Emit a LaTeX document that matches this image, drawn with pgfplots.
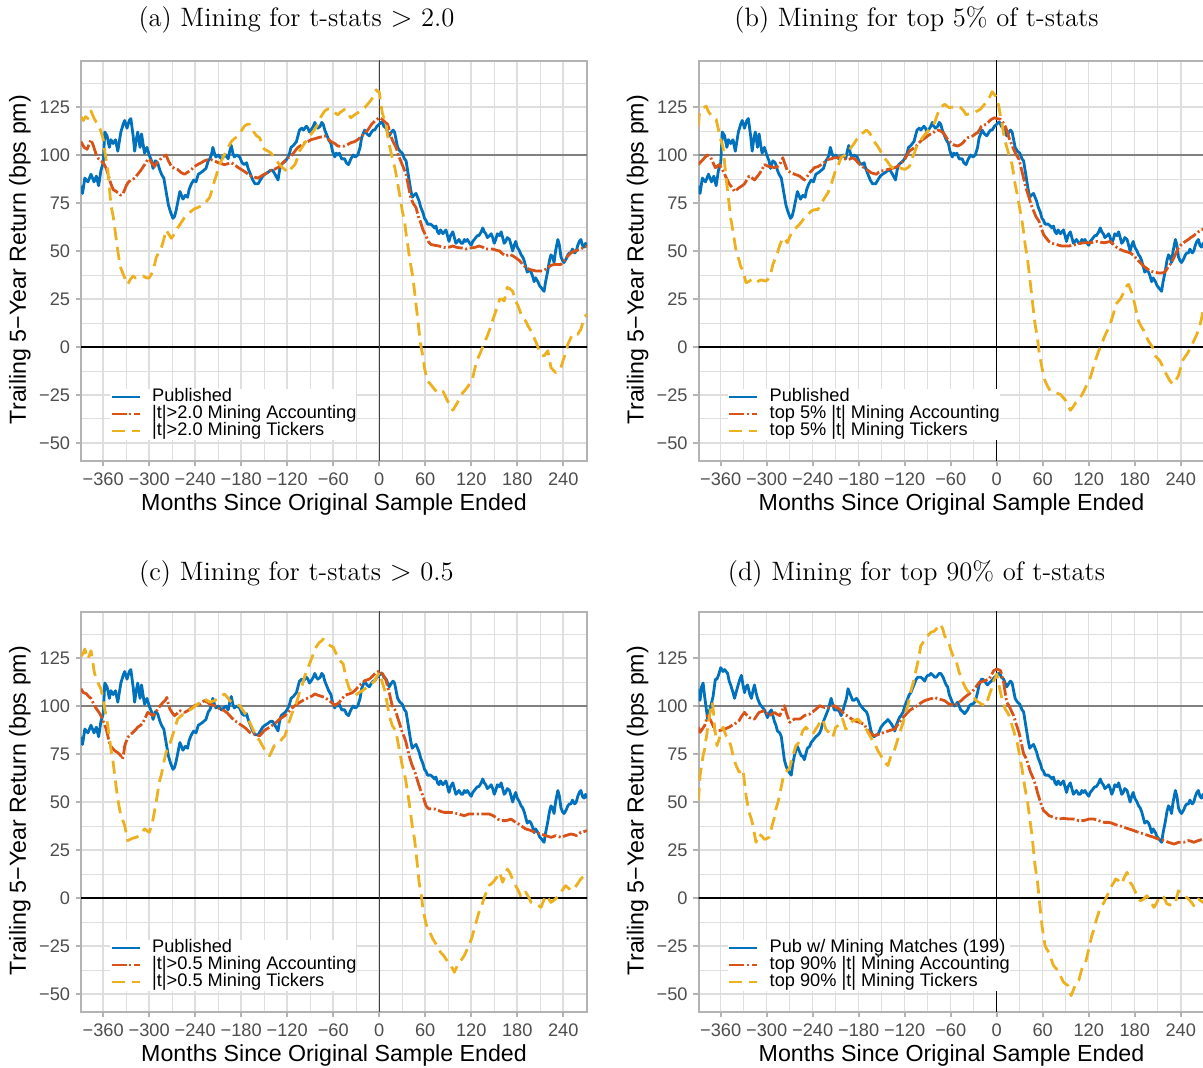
\documentclass[border=0pt]{standalone}
\usepackage{fontspec}
\setsansfont{Liberation Sans}
\usepackage{pgfplots}
\usepackage{pgfplotstable}
\pgfplotsset{compat=1.18}
\definecolor{cblue}{HTML}{0072BD}
\definecolor{corange}{HTML}{D95319}
\definecolor{cyellow}{HTML}{EDB120}
\definecolor{gridc}{HTML}{DEDEDE}
\definecolor{grey70}{HTML}{B3B3B3}
\definecolor{grey30}{HTML}{4D4D4D}
\definecolor{grey50}{HTML}{808080}
\newcommand\tickfont{\sffamily\fontsize{9.1}{10}\selectfont}
\newcommand\labfont{\sffamily\fontsize{11.6}{13}\selectfont}
\newcommand\titfont{\rmfamily\fontsize{13.3}{16}\selectfont}

\pgfplotstableread[row sep=\\]{
x y\\ -389 84\\ -387 80\\ -384 88\\ -380 86\\ -376 90\\ -372 86\\ -369 89\\ -366 84\\ -363 92\\ -360 96\\ -358 112\\ -355 110\\ -352 104\\ -350 108\\ -347 106\\ -344 108\\ -341 102\\ -337 112\\ -334 116\\ -332 118\\ -329 114\\ -326 118\\ -324 119\\ -321 110\\ -319 102\\ -317 108\\ -315 112\\ -312 104\\ -310 111\\ -307 103\\ -306 101\\ -303 104\\ -300 100\\ -297 97\\ -295 93\\ -292 97\\ -289 96\\ -286 92\\ -284 90\\ -281 88\\ -278 81\\ -275 74\\ -272 70\\ -269 67\\ -267 68\\ -265 71\\ -262 77\\ -260 81\\ -258 79\\ -256 77\\ -253 79\\ -250 78\\ -248 82\\ -245 85\\ -242 87\\ -239 86\\ -236 90\\ -232 91\\ -229 92\\ -226 93\\ -223 97\\ -221 98\\ -219 100\\ -217 104\\ -215 101\\ -213 99\\ -210 100\\ -206 98\\ -203 99\\ -200 100\\ -197 98\\ -195 102\\ -193 105\\ -191 101\\ -189 99\\ -186 100\\ -182 99\\ -179 96\\ -176 95\\ -173 96\\ -171 93\\ -168 90\\ -165 87\\ -162 85\\ -158 85\\ -155 87\\ -152 89\\ -149 90\\ -145 91\\ -142 92\\ -139 92\\ -136 90\\ -132 87\\ -130 92\\ -128 95\\ -125 96\\ -122 97\\ -119 99\\ -117 101\\ -115 104\\ -112 105\\ -108 107\\ -106 110\\ -104 113\\ -101 114\\ -99 113\\ -97 114\\ -95 115\\ -93 114\\ -91 112\\ -89 113\\ -86 115\\ -84 117\\ -82 115\\ -80 114\\ -77 115\\ -75 117\\ -73 116\\ -71 113\\ -69 111\\ -66 108\\ -63 106\\ -61 102\\ -58 99\\ -56 101\\ -54 100\\ -52 101\\ -49 98\\ -45 98\\ -43 96\\ -40 95\\ -37 98\\ -34 100\\ -31 99\\ -28 100\\ -25 104\\ -23 109\\ -21 111\\ -19 113\\ -16 111\\ -13 110\\ -10 112\\ -8 113\\ -6 113\\ -3 115\\ 0 116\\
}\blueAL

\pgfplotstableread[row sep=\\]{
x y\\ -389 109\\ -387 103\\ -385 110\\ -383 112\\ -381 105\\ -380 102\\ -378 96\\ -377 93\\ -375 97\\ -373 100\\ -370 105\\ -367 114\\ -365 114\\ -363 116\\ -360 120\\ -357 118\\ -355 119\\ -353 118\\ -351 117\\ -349 113\\ -347 111\\ -344 107\\ -342 104\\ -340 107\\ -338 110\\ -335 114\\ -333 116\\ -331 111\\ -329 107\\ -327 110\\ -325 111\\ -322 106\\ -320 104\\ -318 108\\ -316 111\\ -314 107\\ -312 104\\ -309 101\\ -307 100\\ -305 99\\ -303 98\\ -301 96\\ -299 94\\ -296 97\\ -294 98\\ -292 95\\ -290 92\\ -288 90\\ -286 87\\ -283 86\\ -281 84\\ -279 78\\ -277 72\\ -275 69\\ -273 67\\ -270 65\\ -268 64\\ -266 70\\ -264 74\\ -262 77\\ -260 79\\ -258 77\\ -255 74\\ -253 74\\ -251 72\\ -249 75\\ -247 78\\ -244 79\\ -242 81\\ -240 82\\ -238 83\\ -236 84\\ -233 85\\ -231 86\\ -229 88\\ -227 91\\ -225 93\\ -222 96\\ -220 98\\ -218 101\\ -216 104\\ -214 101\\ -212 98\\ -209 98\\ -207 98\\ -205 97\\ -203 95\\ -201 97\\ -199 100\\ -196 104\\ -194 109\\ -192 107\\ -190 105\\ -188 103\\ -186 103\\ -183 104\\ -181 103\\ -179 101\\ -177 100\\ -175 99\\ -173 98\\ -170 97\\ -168 95\\ -166 91\\ -164 87\\ -162 85\\ -160 84\\ -157 85\\ -155 85\\ -153 87\\ -151 89\\ -149 90\\ -147 91\\ -144 92\\ -142 93\\ -140 92\\ -138 91\\ -135 89\\ -133 87\\ -131 90\\ -129 92\\ -127 94\\ -125 95\\ -122 97\\ -120 100\\ -118 102\\ -116 104\\ -114 106\\ -112 107\\ -109 110\\ -107 112\\ -105 114\\ -103 115\\ -101 115\\ -99 115\\ -96 114\\ -94 113\\ -92 115\\ -90 116\\ -88 116\\ -86 117\\ -83 116\\ -81 115\\ -79 115\\ -77 116\\ -75 117\\ -73 117\\ -70 115\\ -68 113\\ -66 111\\ -64 110\\ -62 106\\ -60 104\\ -57 101\\ -55 100\\ -53 101\\ -51 102\\ -49 100\\ -47 98\\ -44 97\\ -42 96\\ -40 97\\ -38 98\\ -36 100\\ -33 101\\ -31 101\\ -29 102\\ -27 104\\ -25 107\\ -23 111\\ -20 114\\ -18 114\\ -16 113\\ -14 112\\ -12 111\\ -10 112\\ -7 113\\ -5 114\\ -3 115\\ 0 116\\
}\blueDL

\pgfplotstableread[row sep=\\]{
x y\\ 0 116\\ 2 117\\ 4 117\\ 6 115\\ 9 114\\ 11 112\\ 13 110\\ 16 112\\ 18 113\\ 20 112\\ 22 108\\ 24 104\\ 27 102\\ 30 101\\ 33 98\\ 35 97\\ 37 92\\ 39 87\\ 41 82\\ 43 78\\ 45 79\\ 48 80\\ 50 78\\ 52 76\\ 54 73\\ 57 70\\ 59 67\\ 61 66\\ 63 64\\ 65 64\\ 67 64\\ 70 63\\ 72 62\\ 74 63\\ 76 60\\ 78 59\\ 80 61\\ 83 59\\ 85 60\\ 87 61\\ 89 58\\ 91 55\\ 93 58\\ 96 60\\ 98 57\\ 100 54\\ 102 55\\ 104 56\\ 107 54\\ 109 54\\ 111 56\\ 113 55\\ 115 56\\ 118 54\\ 120 53\\ 122 55\\ 124 56\\ 126 57\\ 128 58\\ 130 58\\ 133 60\\ 135 62\\ 137 60\\ 139 59\\ 141 57\\ 144 58\\ 146 59\\ 148 57\\ 150 54\\ 152 56\\ 154 59\\ 157 58\\ 159 60\\ 161 57\\ 163 54\\ 165 55\\ 167 57\\ 170 56\\ 172 53\\ 174 50\\ 176 53\\ 178 55\\ 180 52\\ 183 50\\ 185 48\\ 187 47\\ 189 45\\ 191 42\\ 193 39\\ 196 40\\ 198 39\\ 200 37\\ 202 34\\ 204 36\\ 207 34\\ 209 32\\ 211 31\\ 213 30\\ 215 29\\ 217 34\\ 220 40\\ 222 45\\ 224 48\\ 226 47\\ 228 44\\ 230 50\\ 233 56\\ 235 53\\ 237 47\\ 239 45\\ 241 44\\ 244 46\\ 246 48\\ 248 49\\ 250 49\\ 252 51\\ 255 49\\ 257 50\\ 259 53\\ 261 55\\ 263 56\\ 265 53\\ 267 52\\ 269 54\\ 271 52\\
}\blueR

\pgfplotstableread[row sep=\\]{
x y\\ -389 107\\ -385 104\\ -381 103\\ -378 106\\ -376 108\\ -373 105\\ -369 100\\ -366 98\\ -363 97\\ -360 96\\ -356 93\\ -353 89\\ -350 85\\ -347 82\\ -343 81\\ -340 80\\ -337 79\\ -334 80\\ -330 84\\ -327 86\\ -323 87\\ -319 88\\ -315 90\\ -311 92\\ -306 95\\ -303 97\\ -300 98\\ -297 96\\ -293 94\\ -290 96\\ -287 97\\ -283 99\\ -278 100\\ -275 97\\ -271 94\\ -267 93\\ -263 92.5\\ -259 91\\ -254 90\\ -250 91\\ -245 92.5\\ -241 94\\ -237 95\\ -232 96\\ -228 97\\ -224 97.5\\ -219 97.5\\ -215 97\\ -210 96\\ -206 95.5\\ -202 95\\ -197 95.5\\ -193 96\\ -189 95\\ -184 93.5\\ -180 92.5\\ -176 91.5\\ -171 90\\ -167 89\\ -163 88.5\\ -158 88\\ -154 89\\ -150 90\\ -145 91\\ -141 92\\ -137 92.5\\ -132 93.5\\ -128 95\\ -123 97\\ -119 98.5\\ -115 99.5\\ -110 102\\ -106 104\\ -102 105\\ -97 106.5\\ -93 107\\ -89 108\\ -84 108.5\\ -80 109\\ -75 109.5\\ -71 110\\ -67 108.5\\ -63 107\\ -58 106\\ -54 104.7\\ -50 104.5\\ -45 104.7\\ -41 105.5\\ -37 106.4\\ -32 107\\ -28 108\\ -24 109.5\\ -19 111.6\\ -15 113\\ -10 116\\ -5 118\\ 0 119.4\\ 4 118.6\\ 8 117\\ 11 116\\ 15 110\\ 18 107\\ 22 104\\ 25 100\\ 28 97\\ 32 93\\ 35 90\\ 38 84\\ 41 78\\ 44 75\\ 48 72.6\\ 51 68\\ 54 65\\ 57 61\\ 61 57.8\\ 64 55\\ 67 53.5\\ 72 53\\ 78 52.6\\ 83 52\\ 87 51.7\\ 91 52\\ 96 52.6\\ 100 52\\ 104 51.7\\ 109 51.5\\ 113 51\\ 117 51.5\\ 122 51.7\\ 126 52\\ 130 52.6\\ 135 52\\ 139 51\\ 144 51\\ 148 51\\ 152 50.5\\ 157 50\\ 161 48.5\\ 165 47.4\\ 170 48.3\\ 174 47.5\\ 178 46.5\\ 183 45\\ 187 43\\ 191 41.5\\ 196 40.4\\ 200 40\\ 204 39.6\\ 209 39.6\\ 213 39.6\\ 217 40.5\\ 220 41.3\\ 224 42.5\\ 228 43\\ 233 43\\ 237 43\\ 241 45\\ 246 47.4\\ 250 49\\ 255 50\\ 259 50.5\\ 263 51\\ 267 52\\ 271 52.6\\
}\orA

\pgfplotstableread[row sep=\\]{
x y\\ -389 120\\ -386 118\\ -383 120\\ -380 119\\ -376 123\\ -373 120\\ -369 117\\ -366 115\\ -363 112.5\\ -360 108\\ -358 102\\ -356 97\\ -354 92\\ -352 83\\ -350 74\\ -347 68\\ -345 62\\ -343 56\\ -341 50\\ -339 45\\ -337 41\\ -334 38\\ -332 36\\ -330 34\\ -328 32.6\\ -325 35\\ -321 37\\ -318 36\\ -315 36\\ -311 37\\ -308 37\\ -304 36\\ -300 36\\ -297 38\\ -295 39.6\\ -293 43\\ -291 46.5\\ -288 49\\ -284 52\\ -281 56\\ -278 61\\ -275 59\\ -271 56.6\\ -267 59\\ -263 62\\ -258 65\\ -254 67.4\\ -250 69\\ -245 70.8\\ -241 72\\ -237 72.6\\ -232 73.5\\ -228 74.3\\ -225 76\\ -221 78\\ -218 82\\ -215 86.5\\ -212 90\\ -210 93.4\\ -206 97\\ -202 100\\ -197 104\\ -193 107\\ -189 108.5\\ -184 110\\ -180 112.5\\ -176 115\\ -172 116\\ -169 116\\ -166 114\\ -163 111.6\\ -160 110\\ -156 109\\ -153 106\\ -150 103\\ -145 102\\ -141 101\\ -137 98.5\\ -132 96\\ -129 94.5\\ -126 93.4\\ -122 92\\ -119 90.8\\ -115 93\\ -110 95\\ -107 98\\ -104 102\\ -100 104.5\\ -97 106.4\\ -93 108.5\\ -89 110.8\\ -84 113.5\\ -80 116\\ -76 120\\ -71 123\\ -67 124\\ -63 123.8\\ -58 122\\ -54 121\\ -50 122.5\\ -45 123.8\\ -41 121.5\\ -37 119.4\\ -32 121\\ -28 122\\ -23 123.5\\ -19 124.7\\ -15 126.5\\ -10 129\\ -7 131\\ -4 134\\ -2 133\\ 0 133\\ 2 127\\ 4 122\\ 7 118\\ 9 116\\ 11 110\\ 13 105.5\\ 15 102\\ 17 98.6\\ 20 94\\ 22 90\\ 25 83\\ 28 76\\ 30 71\\ 33 65.6\\ 35 59\\ 37 53.5\\ 39 48\\ 41 43\\ 44 36\\ 46 29\\ 48 22\\ 50 15.3\\ 52 8\\ 54 1.4\\ 57 -5\\ 59 -10.8\\ 61 -14.5\\ 63 -17.7\\ 67 -19.5\\ 70 -21\\ 73 -22.5\\ 76 -23.8\\ 80 -23.5\\ 83 -23\\ 86 -25.5\\ 89 -28\\ 93 -30.5\\ 96 -33\\ 99 -31\\ 102 -29\\ 106 -26\\ 109 -23.8\\ 112 -22.5\\ 115 -21\\ 119 -18.5\\ 122 -16\\ 124 -12.5\\ 126 -9\\ 128 -6.5\\ 130 -4.7\\ 133 -2\\ 135 0\\ 138 3\\ 141 5.7\\ 144 9\\ 146 11.8\\ 149 15\\ 152 18.7\\ 155 22\\ 157 24.8\\ 160 25\\ 163 24\\ 165 27.5\\ 167 31\\ 170 30.5\\ 174 29\\ 176 26.5\\ 178 24\\ 182 20.5\\ 185 17\\ 188 15\\ 191 13.5\\ 194 11\\ 198 8.3\\ 201 5.5\\ 204 3\\ 207 0\\ 209 -3\\ 212 -4\\ 215 -4.7\\ 218 -3\\ 220 -2\\ 222 -6.5\\ 224 -10.8\\ 227 -12\\ 230 -13.4\\ 233 -12.5\\ 237 -10.8\\ 239 -8\\ 241 -5.6\\ 244 -2\\ 246 1.4\\ 249 4\\ 252 6.6\\ 255 6.8\\ 259 6.6\\ 261 8\\ 263 9.2\\ 265 12\\ 267 15.3\\ 271 17\\
}\yeA

\pgfplotstableread[row sep=\\]{
x y\\ -389 95\\ -386 96.5\\ -383 97.7\\ -380 99\\ -378 100\\ -375 99.5\\ -373 98.6\\ -370 96\\ -367 93.4\\ -365 94\\ -362 95\\ -358 92.5\\ -355 90\\ -352 87.5\\ -349 85\\ -345 83\\ -342 81\\ -339 82\\ -336 83\\ -332 84\\ -329 85\\ -326 87\\ -323 89\\ -319 88\\ -316 87\\ -313 88.5\\ -310 90\\ -306 92.5\\ -303 95\\ -300 94.5\\ -297 94\\ -293 93.7\\ -290 93.4\\ -286 94\\ -283 95\\ -281 97\\ -279 98.6\\ -276 95\\ -273 91.7\\ -268 90.8\\ -264 90\\ -260 89.5\\ -257 89\\ -254 88\\ -251 87\\ -247 89\\ -244 90.8\\ -241 92\\ -238 93.4\\ -233 94\\ -229 95\\ -224 96.5\\ -220 97.7\\ -216 98\\ -212 98.6\\ -207 98.6\\ -203 98.6\\ -198 98\\ -194 97.7\\ -191 98\\ -188 98.6\\ -184 97.5\\ -181 96\\ -177 94.5\\ -173 93.4\\ -168 92\\ -164 90.8\\ -160 90.3\\ -157 90\\ -154 91\\ -151 91.7\\ -146 92\\ -142 92.5\\ -137 93\\ -133 93.4\\ -130 94\\ -127 95\\ -123 96.5\\ -120 97.7\\ -117 100\\ -114 102\\ -109 103.5\\ -105 104.7\\ -101 106.5\\ -97 108\\ -93 109\\ -90 110\\ -86 111\\ -83 111.6\\ -80 112.5\\ -77 113\\ -73 112.5\\ -70 111.6\\ -67 110\\ -64 108\\ -60 106.5\\ -57 105.5\\ -54 105\\ -51 104.7\\ -47 105.5\\ -44 106.4\\ -41 108\\ -38 109\\ -34 109.5\\ -31 110\\ -28 111\\ -25 111.6\\ -22 113.5\\ -20 115\\ -17 115.5\\ -14 116\\ -10 117.5\\ -7 118.6\\ -3 119.4\\ 0 119\\ 5 118.6\\ 8 117\\ 11 115\\ 14 112\\ 16 109\\ 19 106\\ 22 103\\ 25 100.5\\ 29 97.7\\ 32 93\\ 35 88\\ 38 83\\ 42 78\\ 45 74\\ 48 71\\ 51 68\\ 55 65.6\\ 58 62\\ 61 58.7\\ 64 57\\ 68 55\\ 72 54\\ 77 53.5\\ 81 53\\ 85 52.6\\ 90 52.6\\ 94 52.6\\ 99 53\\ 105 53.5\\ 109 54\\ 113 54.3\\ 118 54.3\\ 122 54.3\\ 126 54.6\\ 131 55\\ 135 54.6\\ 140 54.3\\ 144 54.6\\ 148 55\\ 152 53.5\\ 157 51.7\\ 161 50.8\\ 166 50\\ 170 49.5\\ 174 49\\ 179 47.5\\ 183 45.7\\ 187 44\\ 192 42\\ 196 40.8\\ 200 39.6\\ 205 39\\ 209 38.7\\ 213 38.5\\ 218 38.7\\ 221 40\\ 224 42\\ 228 44\\ 231 46.5\\ 234 49\\ 237 51.7\\ 241 53.5\\ 246 55\\ 250 56\\ 253 57\\ 257 58\\ 261 59.5\\ 265 60.5\\ 269 61.3\\ 271 61.5\\
}\orB

\pgfplotstableread[row sep=\\]{
x y\\ -389 115\\ -388 121\\ -386 123\\ -383 124.7\\ -381 125\\ -379 125.5\\ -377 123.5\\ -375 122\\ -372 120.5\\ -370 119.4\\ -368 119\\ -366 118.6\\ -364 115\\ -362 111.6\\ -360 108\\ -357 104\\ -355 96\\ -353 88\\ -351 81\\ -349 74.3\\ -347 67\\ -344 60.4\\ -342 55\\ -340 50\\ -338 47.5\\ -336 45\\ -334 42\\ -331 39.6\\ -329 36.5\\ -327 33.5\\ -324 34\\ -320 35\\ -317 34\\ -314 33.5\\ -310 34.5\\ -307 35\\ -304 34.5\\ -301 34.4\\ -299 35\\ -297 36\\ -294 39.5\\ -292 43\\ -289 46\\ -286 49\\ -283 53\\ -279 57\\ -276 56\\ -273 54.3\\ -270 57.5\\ -266 60.4\\ -262 62\\ -257 64\\ -254 65.5\\ -251 67.4\\ -246 69\\ -242 70.8\\ -238 71.5\\ -233 71.7\\ -230 74\\ -227 76\\ -224 78\\ -220 80.4\\ -216 84.7\\ -213 88.5\\ -210 92.5\\ -206 95.5\\ -203 98.6\\ -200 99.5\\ -197 100\\ -193 102\\ -190 104\\ -186 106\\ -183 108\\ -180 109.5\\ -177 110.8\\ -173 112\\ -170 113\\ -166 111.6\\ -163 109.5\\ -160 107\\ -156 105\\ -153 103\\ -150 100.8\\ -147 98.6\\ -143 96.8\\ -140 95\\ -137 93.7\\ -133 92.5\\ -130 93\\ -127 93.4\\ -124 93\\ -120 92.5\\ -117 93.2\\ -114 94\\ -112 96\\ -110 98.6\\ -107 101.5\\ -105 104\\ -101 106.5\\ -97 109\\ -93 111\\ -90 112.5\\ -86 114.5\\ -81 116.8\\ -78 120.5\\ -75 123.8\\ -71 125.5\\ -68 126.4\\ -65 125.5\\ -62 124.7\\ -57 125\\ -53 125.5\\ -50 125\\ -47 124.7\\ -43 123\\ -40 121\\ -36 121.5\\ -31 122\\ -28 122.5\\ -25 123\\ -21 124\\ -18 125.5\\ -15 126.8\\ -12 128\\ -9 130.5\\ -6 133\\ -3 131.5\\ 0 130\\ 3 124.7\\ 5 120\\ 7 116\\ 9 111\\ 11 107\\ 14 103\\ 16 100\\ 18 97.5\\ 20 95\\ 22 90\\ 24 84.7\\ 27 79\\ 29 74.3\\ 31 70\\ 33 65.6\\ 35 60\\ 37 53.5\\ 40 46\\ 42 39.6\\ 44 32.5\\ 46 25.7\\ 48 18.5\\ 50 11.8\\ 53 5\\ 55 -2\\ 57 -6.5\\ 59 -10.8\\ 61 -14.5\\ 63 -17.7\\ 67 -21\\ 70 -23\\ 73 -23.5\\ 77 -23.8\\ 80 -24.3\\ 83 -24.7\\ 87 -26.5\\ 90 -28\\ 93 -30.5\\ 96 -33\\ 100 -31\\ 103 -29\\ 106 -27.7\\ 109 -26.4\\ 113 -23.5\\ 116 -21\\ 119 -18.5\\ 122 -16\\ 125 -12\\ 127 -9\\ 130 -5.5\\ 133 -2\\ 137 1.5\\ 140 4.9\\ 143 7.5\\ 146 10\\ 148 12\\ 150 14.4\\ 153 18.5\\ 155 22.2\\ 158 23.5\\ 161 24.8\\ 165 28\\ 168 31\\ 170 32\\ 172 32.6\\ 176 28.5\\ 179 24\\ 182 18.5\\ 185 13.5\\ 188 11\\ 192 8.3\\ 195 5.5\\ 198 3\\ 203 0\\ 207 -4.7\\ 210 -6\\ 213 -7.3\\ 217 -10.5\\ 220 -13.4\\ 223 -15.5\\ 226 -17.7\\ 229 -19\\ 231 -19.4\\ 234 -17\\ 237 -15\\ 240 -10.5\\ 242 -7.3\\ 245 -5.5\\ 248 -3.8\\ 252 -1\\ 255 1.4\\ 258 4\\ 261 6.6\\ 264 10\\ 267 14.5\\ 269 18.7\\ 271 20\\
}\yeB

\pgfplotstableread[row sep=\\]{
x y\\ -389 109\\ -386 107\\ -382 106.4\\ -379 105\\ -376 104\\ -373 101.5\\ -369 98.6\\ -366 97\\ -363 95\\ -360 92\\ -356 88\\ -354 84.5\\ -352 81\\ -349 78.5\\ -345 76.7\\ -342 76\\ -339 75\\ -337 74\\ -335 72.4\\ -333 76\\ -332 79.3\\ -330 81.5\\ -328 83.7\\ -325 85\\ -321 86.3\\ -318 87.5\\ -315 89\\ -311 90\\ -308 91.5\\ -305 94\\ -302 96.7\\ -299 96\\ -295 95\\ -292 96.5\\ -289 98.4\\ -286 100\\ -282 101.9\\ -279 103\\ -277 104.5\\ -275 101\\ -273 98.4\\ -270 96.5\\ -267 95\\ -264 96\\ -260 97.6\\ -257 97\\ -254 96.7\\ -250 97.5\\ -247 98.4\\ -244 99.3\\ -241 100.2\\ -237 100.6\\ -234 101\\ -231 102\\ -228 102.8\\ -224 102\\ -221 101\\ -218 100.6\\ -215 100.2\\ -211 99.3\\ -208 98.4\\ -205 98\\ -202 97.6\\ -198 96.3\\ -195 95\\ -192 93.7\\ -189 92.4\\ -185 91.5\\ -182 90.6\\ -179 89.8\\ -176 89\\ -172 87.6\\ -169 86.3\\ -166 85.8\\ -163 85.4\\ -160 84.9\\ -156 84.5\\ -153 85.8\\ -150 87.2\\ -147 88\\ -143 89\\ -140 89.8\\ -137 90.6\\ -133 92\\ -130 93.2\\ -127 94\\ -123 95\\ -120 96.3\\ -117 97.6\\ -114 98.9\\ -110 100.2\\ -107 101\\ -104 101.9\\ -100 102.8\\ -97 103.6\\ -94 104\\ -91 104.5\\ -87 105.4\\ -84 106.3\\ -81 105.8\\ -78 105.4\\ -75 105\\ -71 104.5\\ -68 103.6\\ -65 102.8\\ -61 101.5\\ -58 100.2\\ -55 101\\ -52 102\\ -49 103.7\\ -45 105.4\\ -42 106\\ -39 106.3\\ -35 107\\ -32 108\\ -29 109.3\\ -26 110.6\\ -22 112\\ -19 113.2\\ -16 113.6\\ -13 114\\ -9 115.5\\ -6 116.7\\ -3 117.5\\ 0 118.4\\ 4 116.7\\ 7 115\\ 9 113.2\\ 11 110\\ 13 107.1\\ 15 103.5\\ 17 100.2\\ 20 98.4\\ 22 96.7\\ 24 94\\ 26 91.5\\ 28 89\\ 30 86.3\\ 33 83.5\\ 35 81\\ 37 77.5\\ 39 74.1\\ 41 71.5\\ 43 69\\ 46 66.3\\ 48 63.7\\ 50 61\\ 52 58.5\\ 54 56\\ 57 53.3\\ 59 50.5\\ 61 48.1\\ 63 47\\ 65 46.4\\ 68 46.5\\ 72 46.4\\ 75 46\\ 78 45.5\\ 81 45\\ 85 44.6\\ 88 44.6\\ 91 44.6\\ 95 44.5\\ 98 44.3\\ 101 44\\ 104 43.8\\ 107 43.3\\ 111 42.9\\ 114 43.3\\ 117 43.8\\ 121 43.8\\ 126 43.8\\ 130 43.8\\ 135 43.8\\ 139 43.8\\ 143 43.8\\ 148 43\\ 152 42\\ 155 41\\ 159 40.3\\ 162 40.3\\ 165 40.3\\ 169 40.7\\ 172 41.1\\ 175 40.2\\ 178 39.4\\ 182 38.5\\ 185 37.7\\ 188 36.8\\ 191 36\\ 195 35.5\\ 198 35.1\\ 201 34.6\\ 204 34.2\\ 208 33.7\\ 211 33.3\\ 214 32.9\\ 217 32.5\\ 221 32\\ 224 31.6\\ 227 32\\ 230 32.5\\ 234 32\\ 237 31.6\\ 240 32\\ 243 32.5\\ 247 33\\ 250 33.3\\ 254 33\\ 257 32.5\\ 260 33.3\\ 263 34.2\\ 267 34.6\\ 271 35.1\\
}\orC

\pgfplotstableread[row sep=\\]{
x y\\ -389 126\\ -386 127.5\\ -384 129.7\\ -382 127\\ -380 124.5\\ -378 126.5\\ -376 128.8\\ -374 124\\ -372 118.4\\ -370 115\\ -367 112.3\\ -365 110.5\\ -363 108.9\\ -360 103.5\\ -358 98.4\\ -356 94\\ -354 89.8\\ -352 83.5\\ -350 77.6\\ -347 70.5\\ -345 63.7\\ -343 57.5\\ -341 51.6\\ -339 47\\ -337 42.9\\ -334 40\\ -332 37.7\\ -330 33.5\\ -328 29.9\\ -326 30.3\\ -324 30.7\\ -321 31.2\\ -317 31.6\\ -315 32\\ -313 32.5\\ -309 34.3\\ -306 36\\ -303 35.1\\ -300 34.2\\ -297 37.5\\ -295 41.1\\ -293 45.5\\ -291 49.8\\ -289 55\\ -287 60.2\\ -284 64.5\\ -282 68.9\\ -280 72.5\\ -278 75.9\\ -274 79.3\\ -271 82.8\\ -269 85.4\\ -267 88\\ -265 90.6\\ -263 93.2\\ -258 95\\ -254 96.7\\ -250 97.5\\ -245 98.4\\ -241 99.7\\ -237 101\\ -232 102.3\\ -228 103.6\\ -224 102.8\\ -221 102\\ -218 102.4\\ -215 102.8\\ -211 103.6\\ -208 104.5\\ -205 105.4\\ -202 106.3\\ -198 104.5\\ -195 102.8\\ -192 101.9\\ -189 101\\ -185 100.6\\ -182 100.2\\ -179 98.4\\ -176 96.7\\ -172 94\\ -169 91.5\\ -166 89\\ -163 86.3\\ -160 84\\ -156 82\\ -153 79.8\\ -150 77.6\\ -147 75.9\\ -143 74.1\\ -140 76.7\\ -137 79.3\\ -133 80.2\\ -130 81\\ -127 82.8\\ -123 84.5\\ -120 88.5\\ -117 92.4\\ -114 96\\ -110 99.3\\ -107 103\\ -104 107.1\\ -100 111.5\\ -97 115.8\\ -94 119\\ -91 121.9\\ -87 126\\ -84 129.7\\ -81 131.5\\ -78 133.2\\ -75 134\\ -73 134.9\\ -70 133.6\\ -67 132.3\\ -64 131.5\\ -60 130.6\\ -57 128\\ -54 125.3\\ -51 123.6\\ -47 121.9\\ -45 118\\ -43 114\\ -41 111.5\\ -39 108.9\\ -35 107\\ -32 105.4\\ -29 106.2\\ -26 107.1\\ -22 108\\ -19 108.9\\ -16 109.7\\ -13 110.6\\ -9 112\\ -6 113.2\\ -3 115.3\\ 0 117.5\\ 2 115\\ 4 112.3\\ 7 108.4\\ 9 104.5\\ 11 99.8\\ 13 95\\ 15 92.4\\ 17 89.8\\ 20 88\\ 22 86.3\\ 24 82\\ 26 77.6\\ 28 73.3\\ 30 69\\ 33 64.6\\ 35 60.2\\ 37 55\\ 39 49.8\\ 41 43.8\\ 43 37.7\\ 46 30.8\\ 48 23.8\\ 50 16\\ 52 8.2\\ 55 1.3\\ 57 -5.7\\ 59 -9.6\\ 61 -13.5\\ 64 -16.2\\ 67 -18.8\\ 70 -21.4\\ 74 -24\\ 77 -26.2\\ 80 -28.3\\ 84 -30\\ 87 -31.8\\ 90 -33.5\\ 93 -35.2\\ 96 -37\\ 98 -38.7\\ 101 -36\\ 104 -33.5\\ 108 -31.8\\ 111 -30\\ 114 -27.4\\ 117 -24.8\\ 121 -20.5\\ 124 -16.1\\ 127 -11.8\\ 130 -7.5\\ 134 -3.6\\ 137 0.3\\ 140 3.4\\ 143 6.4\\ 147 7.7\\ 150 9\\ 154 11.2\\ 157 13.4\\ 159 10.8\\ 161 8.2\\ 164 11.6\\ 167 15.1\\ 170 13.4\\ 172 11.6\\ 175 9\\ 178 6.4\\ 182 3.4\\ 185 0.3\\ 188 1.7\\ 191 3\\ 195 0.4\\ 198 -2.3\\ 201 -2.7\\ 204 -3.1\\ 208 -4\\ 211 -4.9\\ 214 -1.8\\ 217 1.2\\ 221 -0.5\\ 224 -2.3\\ 227 -1.4\\ 230 -0.5\\ 234 1.3\\ 237 3\\ 240 4.7\\ 243 6.4\\ 247 5.1\\ 250 3.8\\ 254 5.1\\ 257 6.4\\ 260 8.2\\ 263 9.9\\ 267 11.6\\ 271 13.4\\
}\yeC

\pgfplotstableread[row sep=\\]{
x y\\ -389 88.9\\ -387 86.3\\ -384 88\\ -381 89.8\\ -379 92.4\\ -377 95\\ -375 93.7\\ -373 92.4\\ -370 89.8\\ -368 87.2\\ -365 87.2\\ -362 87.2\\ -358 87.6\\ -355 88\\ -352 88.5\\ -349 89\\ -346 89.8\\ -342 90.6\\ -339 91.5\\ -336 92.4\\ -333 94.5\\ -329 96.7\\ -326 95.3\\ -323 94\\ -320 93.6\\ -316 93.2\\ -313 95\\ -310 96.7\\ -306 97.2\\ -303 97.6\\ -300 96.3\\ -297 95\\ -293 95.8\\ -290 96.7\\ -287 95.8\\ -283 95\\ -280 97.6\\ -277 100.2\\ -274 96\\ -270 91.5\\ -267 92.4\\ -264 93.2\\ -260 93.2\\ -257 93.2\\ -254 94\\ -251 95\\ -248 95.4\\ -244 95.8\\ -241 96.7\\ -238 97.6\\ -234 99\\ -231 100.2\\ -228 99.7\\ -225 99.3\\ -221 99.3\\ -218 99.3\\ -215 99.7\\ -212 100.2\\ -209 99.3\\ -205 98.4\\ -202 97.1\\ -199 95.8\\ -195 94.9\\ -192 94\\ -189 93.2\\ -186 92.4\\ -183 92\\ -179 91.5\\ -176 91\\ -173 90.6\\ -170 88.5\\ -166 86.3\\ -163 85.4\\ -160 84.5\\ -157 84.9\\ -153 85.4\\ -150 85.8\\ -147 86.3\\ -144 86.7\\ -140 87.2\\ -137 87.6\\ -133 88\\ -130 89.8\\ -127 91.5\\ -124 93.2\\ -120 95\\ -117 96.3\\ -114 97.6\\ -111 98.4\\ -107 99.3\\ -104 100.2\\ -101 101\\ -98 101.9\\ -94 102.8\\ -91 103.2\\ -88 103.6\\ -84 104\\ -81 104.5\\ -78 104\\ -75 103.6\\ -71 103.2\\ -68 102.8\\ -65 101.9\\ -62 101\\ -58 100.6\\ -55 100.2\\ -52 101\\ -49 102\\ -45 103.3\\ -42 104.5\\ -39 105.4\\ -36 106.3\\ -32 107.6\\ -29 108.9\\ -26 110.6\\ -23 112.3\\ -19 112.7\\ -16 113.2\\ -13 113.6\\ -10 114\\ -7 116.2\\ -4 118.4\\ 0 119.3\\ 3 118.8\\ 5 118.4\\ 7 115.4\\ 9 112.3\\ 11 107\\ 13 102\\ 16 100.2\\ 18 98.4\\ 20 96.7\\ 22 95\\ 24 92.4\\ 26 89.8\\ 29 86.3\\ 31 82.8\\ 33 79\\ 35 75.2\\ 38 73\\ 40 70.7\\ 42 68.2\\ 44 65.6\\ 46 63.8\\ 48 62\\ 51 58.5\\ 53 55.1\\ 55 52.5\\ 57 49.8\\ 59 47.7\\ 61 45.5\\ 65 44.2\\ 68 42.9\\ 71 42.5\\ 74 42\\ 78 41.5\\ 81 41.1\\ 84 41.3\\ 87 41.5\\ 91 41.3\\ 94 41.1\\ 97 41.1\\ 100 41.1\\ 104 40.7\\ 107 40.3\\ 110 40.3\\ 113 40.3\\ 117 40.7\\ 120 41.1\\ 124 41.1\\ 127 41.1\\ 130 40.7\\ 133 40.3\\ 137 39.8\\ 140 39.4\\ 143 39.4\\ 146 39.4\\ 150 39\\ 153 38.5\\ 156 38.1\\ 159 37.7\\ 163 37.3\\ 166 36.8\\ 169 36.4\\ 172 36\\ 176 35.5\\ 179 35.1\\ 182 34.6\\ 185 34.2\\ 189 33.7\\ 192 33.3\\ 195 32.9\\ 198 32.5\\ 202 32\\ 205 31.6\\ 208 31.1\\ 211 30.7\\ 215 30.3\\ 218 29.9\\ 221 29.5\\ 224 29\\ 228 28.5\\ 231 28.1\\ 234 28.5\\ 237 29\\ 241 29\\ 244 29\\ 247 29.5\\ 250 29.9\\ 254 29.5\\ 257 29\\ 260 29.5\\ 263 29.9\\ 266 30.3\\ 269 30.7\\ 271 30.7\\
}\orD

\pgfplotstableread[row sep=\\]{
x y\\ -389 50.7\\ -388 57\\ -387 63.7\\ -385 69\\ -383 74.1\\ -381 77.5\\ -380 81\\ -378 85.5\\ -377 89.8\\ -375 94\\ -373 98.4\\ -371 102\\ -369 95\\ -368 88\\ -366 83.5\\ -365 79.3\\ -362 82.8\\ -360 86\\ -357 89\\ -355 86.7\\ -353 84.5\\ -351 83.2\\ -349 82\\ -346 78\\ -344 74.1\\ -342 71.5\\ -340 69\\ -338 67.3\\ -336 65.6\\ -333 66.4\\ -331 67.2\\ -329 60\\ -327 53.3\\ -325 49\\ -323 44.6\\ -320 41\\ -318 37.7\\ -316 33.3\\ -314 29\\ -312 31\\ -310 33.3\\ -306 32\\ -303 30.5\\ -300 31\\ -297 31.6\\ -295 34.6\\ -293 37.7\\ -290 42\\ -288 46.4\\ -285 50.3\\ -283 54.2\\ -281 58\\ -279 62\\ -277 63.8\\ -275 65.6\\ -272 66.8\\ -270 68\\ -268 71\\ -266 74.1\\ -264 76.7\\ -262 79.3\\ -259 80.6\\ -257 82\\ -255 84.6\\ -253 87.2\\ -251 88\\ -249 89\\ -246 87.6\\ -244 86.3\\ -242 85.8\\ -240 85.4\\ -238 86.7\\ -236 88\\ -233 89.8\\ -231 91.5\\ -229 92.4\\ -227 93.2\\ -225 90.6\\ -223 88\\ -220 86.7\\ -218 85.4\\ -216 84.5\\ -214 83.7\\ -212 86.3\\ -210 89\\ -207 89.8\\ -205 90.6\\ -203 91.9\\ -201 93.2\\ -199 90.6\\ -197 88\\ -194 88.9\\ -192 89.8\\ -190 91\\ -188 92.4\\ -184 92.8\\ -181 93.2\\ -178 91.9\\ -175 90.6\\ -171 88.5\\ -168 86.3\\ -165 84.2\\ -162 82\\ -158 79.4\\ -155 76.7\\ -153 75.4\\ -151 74.1\\ -149 72.4\\ -147 70.7\\ -144 69.8\\ -142 69\\ -140 71.5\\ -138 74.1\\ -135 75.8\\ -133 77.6\\ -131 80.2\\ -129 82.8\\ -127 85.4\\ -125 88\\ -122 91.5\\ -120 95\\ -118 97.6\\ -116 100.2\\ -114 104\\ -112 108\\ -109 112\\ -107 115.8\\ -105 119.2\\ -103 122.7\\ -101 127\\ -99 131.4\\ -96 133.2\\ -94 134.9\\ -92 135.8\\ -90 136.6\\ -88 137.5\\ -86 138.4\\ -83 138.8\\ -81 139.2\\ -79 140.1\\ -77 141\\ -75 141.8\\ -73 142.7\\ -70 139.6\\ -68 136.6\\ -65 134.5\\ -62 132.3\\ -60 129.3\\ -57 126.2\\ -55 124.9\\ -53 123.6\\ -51 120.6\\ -49 117.5\\ -46 114.9\\ -44 112.3\\ -42 110.6\\ -40 108.9\\ -38 108\\ -36 107.1\\ -33 106.3\\ -31 105.4\\ -29 104.1\\ -27 102.8\\ -23 101.9\\ -20 101\\ -17 100.6\\ -14 100.2\\ -12 102.8\\ -10 105.4\\ -7 108.9\\ -5 112.3\\ -2 114.5\\ 0 116.7\\ 3 110.6\\ 5 107\\ 7 103.6\\ 9 101\\ 11 98.4\\ 14 96.7\\ 16 95\\ 18 92.4\\ 20 89.8\\ 22 87.2\\ 24 84.5\\ 27 80.2\\ 29 76\\ 31 71.6\\ 33 67.2\\ 35 62\\ 37 56.8\\ 40 50.7\\ 42 44.6\\ 44 38.5\\ 46 32.5\\ 48 24.6\\ 50 16.8\\ 53 9\\ 55 1.2\\ 57 -6.6\\ 59 -14.4\\ 61 -19.6\\ 63 -24.8\\ 65 -26.5\\ 68 -28.3\\ 71 -31.8\\ 74 -35.2\\ 78 -37\\ 81 -38.7\\ 84 -41.3\\ 87 -43.9\\ 90 -44.8\\ 93 -45.7\\ 95 -48.3\\ 97 -50.9\\ 100 -47.9\\ 103 -44.8\\ 105 -43.9\\ 107 -43\\ 109 -40\\ 111 -37\\ 113 -35.2\\ 116 -33.5\\ 118 -30\\ 120 -26.6\\ 122 -23.1\\ 124 -19.6\\ 127 -16.1\\ 129 -12.7\\ 131 -10.1\\ 133 -7.5\\ 135 -5.8\\ 137 -4\\ 140 -2.3\\ 142 -0.5\\ 144 1.3\\ 146 3\\ 148 4.7\\ 150 6.4\\ 153 8.2\\ 155 9.9\\ 157 9.5\\ 159 9\\ 161 8.2\\ 163 7.3\\ 166 10.4\\ 170 13.4\\ 172 10.8\\ 174 8.2\\ 177 6.5\\ 179 4.7\\ 181 3\\ 183 1.2\\ 185 -0.1\\ 187 -1.4\\ 190 -1\\ 192 -0.5\\ 194 0.4\\ 196 1.2\\ 198 -0.5\\ 200 -2.3\\ 203 -3.6\\ 205 -4.9\\ 207 -3.6\\ 209 -2.3\\ 211 -0.5\\ 213 1.2\\ 216 0.8\\ 218 0.3\\ 220 -1.4\\ 222 -3.1\\ 226 -3.6\\ 229 -4\\ 231 -3.1\\ 233 -2.3\\ 235 0.8\\ 237 3.8\\ 240 2.5\\ 244 1.2\\ 247 0.4\\ 250 -0.5\\ 254 -2.3\\ 257 -4\\ 260 -2.3\\ 263 -0.5\\ 266 -1.4\\ 269 -2.3\\ 271 -2\\
}\yeD

\pgfplotsset{
  panel/.style={
    scale only axis, width=253pt, height=200pt,
    xmin=-389, xmax=271, ymin=-59.4, ymax=149,
    xtick={-360,-300,...,240},
    xticklabels={−360,−300,−240,−180,−120,−60,0,60,120,180,240},
    minor xtick={-330,-270,...,270},
    ytick={-50,-25,...,125},
    yticklabels={−50,−25,0,25,50,75,100,125},
    minor ytick={-37.5,-12.5,...,137.5},
    grid=both,
    major grid style={draw=gridc, line width=0.75pt},
    minor grid style={draw=gridc, line width=0.45pt},
    axis line style={draw=grey70, line width=1pt},
    tick style={draw=grey70, line width=0.9pt},
    tick align=outside, major tick length=2.75pt, minor tick length=0pt,
    xtick pos=bottom, ytick pos=left,
    ticklabel style={font=\tickfont, text=grey30, inner sep=0pt},
    xticklabel style={anchor=center, yshift=-6.25pt},
    yticklabel style={anchor=east, xshift=-2.5pt},
    legend style={at={(0.0573,0.0525)}, anchor=south west, fill=white, draw=none,
      inner sep=0pt, font=\tickfont, row sep=0pt, column sep=5.5pt,
      nodes={inner sep=0pt, text height=6.4pt, text depth=2.1pt}},
    legend cell align=left,
    legend image code/.code={\draw[##1] (0pt,0pt) -- (14pt,0pt);},
    every axis plot/.append style={line width=1.4pt, line join=round},
  },
  blueline/.style={draw=cblue, solid},
  orline/.style={draw=corange, dash pattern=on 7.5pt off 1.3pt on 1pt off 1.3pt},
  yeline/.style={draw=cyellow, dash pattern=on 6.5pt off 3.5pt},
  refh/.style={forget plot, draw=grey50, line width=0.6pt, solid},
  refz/.style={forget plot, draw=black, line width=0.6pt, solid},
}

\begin{document}
\begin{tikzpicture}[x=1pt,y=1pt]
\path[use as bounding box] (0pt,0pt) rectangle (601.5pt,534pt);
\clip (0pt,0pt) rectangle (601.5pt,534pt);

% (a)
\begin{axis}[panel, at={(40.5pt,303.5pt)}, anchor=south west]
\addplot[refh] coordinates {(-400,100) (300,100)};
\addplot[refz] coordinates {(-400,0) (300,0)};
\addplot[refz, draw=black!75] coordinates {(0,-70) (0,160)};
\addplot[blueline] table {\blueAL};
\addlegendentry{Published}
\addplot[blueline, forget plot] table {\blueR};
\addplot[orline] table {\orA};
\addlegendentry{\textbar t\textbar>2.0 Mining Accounting}
\addplot[yeline] table {\yeA};
\addlegendentry{\textbar t\textbar>2.0 Mining Tickers}
\end{axis}

% (b)
\begin{axis}[panel, at={(349.25pt,303.5pt)}, anchor=south west]
\addplot[refh] coordinates {(-400,100) (300,100)};
\addplot[refz] coordinates {(-400,0) (300,0)};
\addplot[refz] coordinates {(0,-70) (0,160)};
\addplot[blueline] table {\blueAL};
\addlegendentry{Published}
\addplot[blueline, forget plot] table {\blueR};
\addplot[orline] table {\orB};
\addlegendentry{top 5\% \textbar t\textbar{} Mining Accounting}
\addplot[yeline] table {\yeB};
\addlegendentry{top 5\% \textbar t\textbar{} Mining Tickers}
\end{axis}

% (c)
\begin{axis}[panel, at={(40.5pt,28pt)}, anchor=south west]
\addplot[refh] coordinates {(-400,100) (300,100)};
\addplot[refz] coordinates {(-400,0) (300,0)};
\addplot[refz, draw=black!75] coordinates {(0,-70) (0,160)};
\addplot[blueline] table {\blueAL};
\addlegendentry{Published}
\addplot[blueline, forget plot] table {\blueR};
\addplot[orline] table {\orC};
\addlegendentry{\textbar t\textbar>0.5 Mining Accounting}
\addplot[yeline] table {\yeC};
\addlegendentry{\textbar t\textbar>0.5 Mining Tickers}
\end{axis}

% (d)
\begin{axis}[panel, at={(349.25pt,28pt)}, anchor=south west]
\addplot[refh] coordinates {(-400,100) (300,100)};
\addplot[refz] coordinates {(-400,0) (300,0)};
\addplot[refz] coordinates {(0,-70) (0,160)};
\addplot[blueline] table {\blueDL};
\addlegendentry{Pub w/ Mining Matches (199)}
\addplot[blueline, forget plot] table {\blueR};
\addplot[orline] table {\orD};
\addlegendentry{top 90\% \textbar t\textbar{} Mining Accounting}
\addplot[yeline] table {\yeD};
\addlegendentry{top 90\% \textbar t\textbar{} Mining Tickers}
\end{axis}

% titles and labels
\node[font=\titfont] at (148.25pt,524pt) {(a) Mining for t-stats $>$ 2.0};
\node[font=\titfont] at (458.25pt,524pt) {(b) Mining for top 5\% of t-stats};
\node[font=\titfont] at (148.25pt,247pt) {(c) Mining for t-stats $>$ 0.5};
\node[font=\titfont] at (458.25pt,247pt) {(d) Mining for top 90\% of t-stats};

\node[font=\labfont, anchor=base] at (167pt,278.75pt) {Months Since Original Sample Ended};
\node[font=\labfont, anchor=base] at (475.75pt,278.75pt) {Months Since Original Sample Ended};
\node[font=\labfont, anchor=base] at (167pt,3.25pt) {Months Since Original Sample Ended};
\node[font=\labfont, anchor=base] at (475.75pt,3.25pt) {Months Since Original Sample Ended};

\node[font=\labfont, rotate=90, anchor=center] at (10pt,404.25pt) {Trailing 5−Year Return (bps pm)};
\node[font=\labfont, rotate=90, anchor=center] at (318.75pt,404.25pt) {Trailing 5−Year Return (bps pm)};
\node[font=\labfont, rotate=90, anchor=center] at (10pt,128.75pt) {Trailing 5−Year Return (bps pm)};
\node[font=\labfont, rotate=90, anchor=center] at (318.75pt,128.75pt) {Trailing 5−Year Return (bps pm)};
\end{tikzpicture}
\end{document}
